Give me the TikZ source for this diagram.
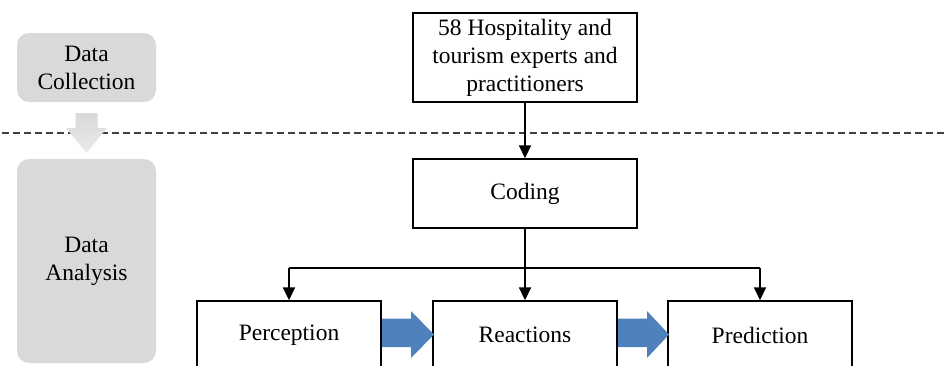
\documentclass[tikz,border=0pt]{standalone}
\usepackage{fontspec}
\setmainfont{Liberation Serif}
\usetikzlibrary{arrows.meta}
\definecolor{phasegray}{HTML}{D9D9D9}
\definecolor{flowblue}{HTML}{4F81BD}
\tikzset{
  box/.style={draw=black, line width=1.4pt, fill=white, align=center, inner sep=0pt,
    font=\fontsize{23.5}{28}\selectfont},
  phase/.style={fill=phasegray, rounded corners=12pt, align=center, inner sep=0pt,
    font=\fontsize{23.5}{28}\selectfont},
  conn/.style={line width=1.8pt, -{Triangle[length=13pt,width=12pt]}},
  line/.style={line width=1.8pt},
}
\begin{document}
\begin{tikzpicture}[x=1pt,y=-1pt]
\clip (0,0) rectangle (948,365);
\fill[white] (0,0) rectangle (948,365);
% dashed separator
\draw[line width=1.3pt, color=black!75, dash pattern=on 7pt off 4pt] (2,133) -- (948,133);
% phase boxes
\node[phase, minimum width=139pt, minimum height=69pt] (coll) at (86.5,67.5) {Data\\Collection};
\node[phase, minimum width=139pt, minimum height=204pt] (ana) at (86.5,261) {Data\\Analysis};
% gray down arrow
\shade[top color=phasegray, bottom color=phasegray!55!white]
  (75.5,113) -- (97.5,113) -- (97.5,128) -- (107,128) -- (86.5,153) -- (66,128) -- (75.5,128) -- cycle;
% process boxes
\node[box, minimum width=224pt, minimum height=89pt] (src) at (525,57.5) {58 Hospitality and\\tourism experts and\\practitioners};
\node[box, minimum width=224pt, minimum height=69pt] (cod) at (525,193.5) {Coding};
\node[box, minimum width=184pt, minimum height=68pt] (per) at (289,335) {Perception};
\node[box, minimum width=184pt, minimum height=68pt] (rea) at (525,335) {Reactions};
\node[box, minimum width=184pt, minimum height=68pt] (pre) at (760,335) {Prediction};
% connectors
\coordinate (split) at (525,268);
\coordinate (lft) at (289,268);
\coordinate (rgt) at (760,268);
\draw[conn] (src.south) -- (cod.north);
\draw[conn] (cod.south) -- (rea.north);
\draw[line] (lft) -- (rgt);
\draw[conn] (lft) -- (per.north);
\draw[conn] (rgt) -- (pre.north);
% blue block arrows
\fill[flowblue] (382,318.5) -- (411,318.5) -- (411,311) -- (434,334.5) -- (411,358) -- (411,347) -- (382,347) -- cycle;
\fill[flowblue] (618,318.5) -- (647,318.5) -- (647,311) -- (669,334.5) -- (647,358) -- (647,347) -- (618,347) -- cycle;
\end{tikzpicture}
\end{document}
